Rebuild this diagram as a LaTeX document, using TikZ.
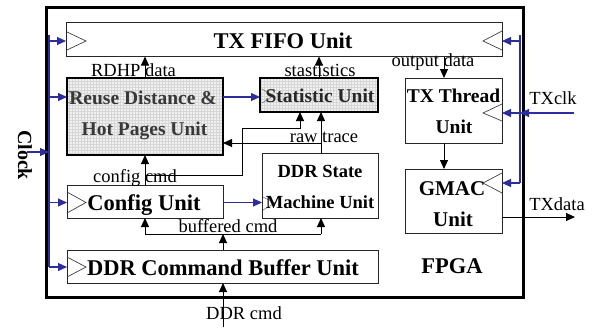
\documentclass[tikz,border=0pt]{standalone}
\usepackage{fontspec}
\setmainfont{Liberation Serif}
\usetikzlibrary{arrows.meta,calc,patterns}
\definecolor{clkblue}{RGB}{45,45,160}
\begin{document}
\begin{tikzpicture}[x=1pt,y=-1pt,
  box/.style={draw=black!85,line width=0.9pt,inner sep=0,outer sep=0,rectangle},
  hbox/.style={draw=black,line width=2.8pt,inner sep=0,outer sep=0,rectangle,preaction={fill=black!6},pattern=grid,pattern color=black!16},
  arr/.style={line width=0.9pt,-{Triangle[length=9pt,width=8pt]}},
  barr/.style={clkblue,line width=1.1pt,-{Triangle[length=9pt,width=8pt]}},
  bline/.style={clkblue,line width=1.3pt},
  clk/.style={black!75,line width=0.7pt},
  clks/.style={black!55,line width=0.6pt},
  lbl/.style={font=\fontsize{18.5}{18.5}\selectfont,inner sep=0,anchor=base},
  big/.style={font=\fontsize{22.5}{22.5}\selectfont\bfseries,inner sep=0,anchor=base},
  mid/.style={font=\fontsize{19.5}{19.5}\selectfont\bfseries,inner sep=0,anchor=base},
  sml/.style={font=\fontsize{18.5}{18.5}\selectfont\bfseries,inner sep=0,anchor=base},
]
\useasboundingbox (0,0) rectangle (592,327);

% outer FPGA frame
\node[draw=black,line width=3pt,inner sep=0,outer sep=0,minimum width=477pt,minimum height=290pt] (fpga) at (284.5,152) {};

% boxes
\node[box,minimum width=436pt,minimum height=34pt] (fifo) at (284,39.5) {};
\node[hbox,minimum width=156pt,minimum height=77pt] (rdhp) at (145,116.5) {};
\node[hbox,minimum width=118pt,minimum height=34pt] (stat) at (319,95) {};
\node[box,minimum width=97pt,minimum height=65pt] (txt) at (453.5,110.5) {};
\node[box,minimum width=97pt,minimum height=64pt] (gmac) at (453.5,201) {};
\node[box,minimum width=116pt,minimum height=65pt] (ddrsm) at (320,185.5) {};
\node[box,minimum width=156pt,minimum height=33pt] (cfg) at (145,201.5) {};
\node[box,minimum width=311pt,minimum height=33pt] (buf) at (222.5,266.5) {};

% clock triangles
\draw[clk] (67,32) -- (86,41) -- (67,50);
\draw[clk] (502,31) -- (483,41) -- (502,50);
\draw[clk] (502,104) -- (483,113) -- (502,121);
\draw[clk] (502,173) -- (483,183) -- (502,193);
\draw[clk] (67,192) -- (86,202.5) -- (67,213);
\draw[clk] (67,257) -- (86,267) -- (67,277);
\draw[clks] (68,91) -- (79,97) -- (68,103);
\draw[clks] (262,89) -- (273,96) -- (262,103);
\draw[clks] (263,197) -- (275,203) -- (263,210);

% clock distribution
\coordinate (lt) at (49,35);
\coordinate (lb) at (49,267);
\draw[bline] (lt) -- (lb);
\coordinate (c1) at (49,41);
\coordinate (c2) at (49,97);
\coordinate (c3) at (49,202.5);
\coordinate (c4) at (49,267);
\coordinate (clkin) at (27,152);
\draw[barr] (c1) -- (c1 -| fifo.west);
\draw[barr] (c2) -- (c2 -| rdhp.west);
\draw[barr] (c3) -- (c3 -| cfg.west);
\draw[barr] (c4) -- (c4 -| buf.west);
\draw[barr] (clkin) -- (clkin -| lt);

\coordinate (rt) at (520,35);
\coordinate (rb) at (520,183);
\draw[bline] (rt) -- (rb);
\coordinate (r1) at (520,41);
\coordinate (r2) at (520,113);
\coordinate (r3) at (520,183);
\coordinate (txclk) at (574,113);
\draw[barr] (r1) -- (r1 -| fifo.east);
\draw[barr] (r2) -- (r2 -| txt.east);
\draw[barr] (txclk) -- (r2);
\draw[barr] (r3) -- (r3 -| gmac.east);

% blue data links
\coordinate (b1) at (0,97);
\coordinate (b2) at (0,202.5);
\draw[barr] (b1 -| rdhp.east) -- (b1 -| stat.west);
\draw[barr] (b2 -| cfg.east) -- (b2 -| ddrsm.west);

% black connectors
\draw[arr] (rdhp.north) -- (rdhp.north |- fifo.south);
\draw[arr] (stat.north) -- (stat.north |- fifo.south);
\coordinate (od) at (444,0);
\draw[arr] (od |- fifo.south) -- (od |- txt.north);
\draw[arr] (od |- txt.south) -- (od |- gmac.north);
\coordinate (txo) at (575,217);
\draw[arr] (txo -| gmac.east) -- (txo);

\coordinate (rw) at (321,143);
\draw[arr] (rw |- ddrsm.north) -- (rw |- stat.south);
\draw[arr] (rw) -- (rw -| rdhp.east);

\draw[arr] (cfg.north) -- (rdhp.south);
\coordinate (cj) at (145,175);
\coordinate (ck) at (242,128);
\coordinate (cs) at (300,128);
\draw[arr] (cj) -| (ck) -- (cs) -- (cs |- stat.south);

\coordinate (bus) at (223,234);
\draw[arr] (bus |- buf.north) -- (bus);
\draw[line width=0.9pt] (bus -| cfg.south) -- (bus -| rw);
\draw[arr] (bus -| cfg.south) -- (cfg.south);
\draw[arr] (bus -| rw) -- (rw |- ddrsm.south);

\coordinate (din) at (223,327);
\draw[arr] (din) -- (din |- buf.south);

% texts
\node[big] (fifot) at (283,48) {TX FIFO Unit};
\node[mid,text=black!78] (rdt1) at (143,104) {Reuse Distance \&};
\node[mid,text=black!78] (rdt2) at (144.5,135) {Hot Pages Unit};
\node[mid,text=black!85] (statt) at (320,102) {Statistic Unit};
\node[mid] (txt1) at (453.5,102) {TX Thread};
\node[mid] (txt2) at (454,133) {Unit};
\node[font=\fontsize{21}{21}\selectfont\bfseries,inner sep=0,anchor=base] (gm1) at (452,195) {GMAC};
\node[font=\fontsize{21}{21}\selectfont\bfseries,inner sep=0,anchor=base] (gm2) at (453,226) {Unit};
\node[sml] (ds1) at (320,177) {DDR State};
\node[sml] (ds2) at (320,208) {Machine Unit};
\node[big] (cfgt) at (144,210) {Config Unit};
\node[big] (buft) at (223,275) {DDR Command Buffer Unit};
\node[big] (fpgat) at (452,273) {FPGA};

\node[lbl] (l1) at (133.5,76) {RDHP data};
\node[lbl] (l2) at (320,76) {stastistics};
\node[lbl] (l3) at (433,66) {output data};
\node[lbl] (l4) at (324,142) {raw trace};
\node[lbl] (l5) at (135,182) {config cmd};
\node[lbl] (l6) at (228,232) {buffered cmd};
\node[lbl] (l7) at (557,210) {TXdata};
\node[lbl] (l8) at (553,104) {TXclk};
\node[lbl] (l9) at (244,319) {DDR cmd};
\node[font=\fontsize{20}{20}\selectfont\bfseries,rotate=-90,inner sep=0] (clockt) at (25,155) {Clock};
\end{tikzpicture}
\end{document}
